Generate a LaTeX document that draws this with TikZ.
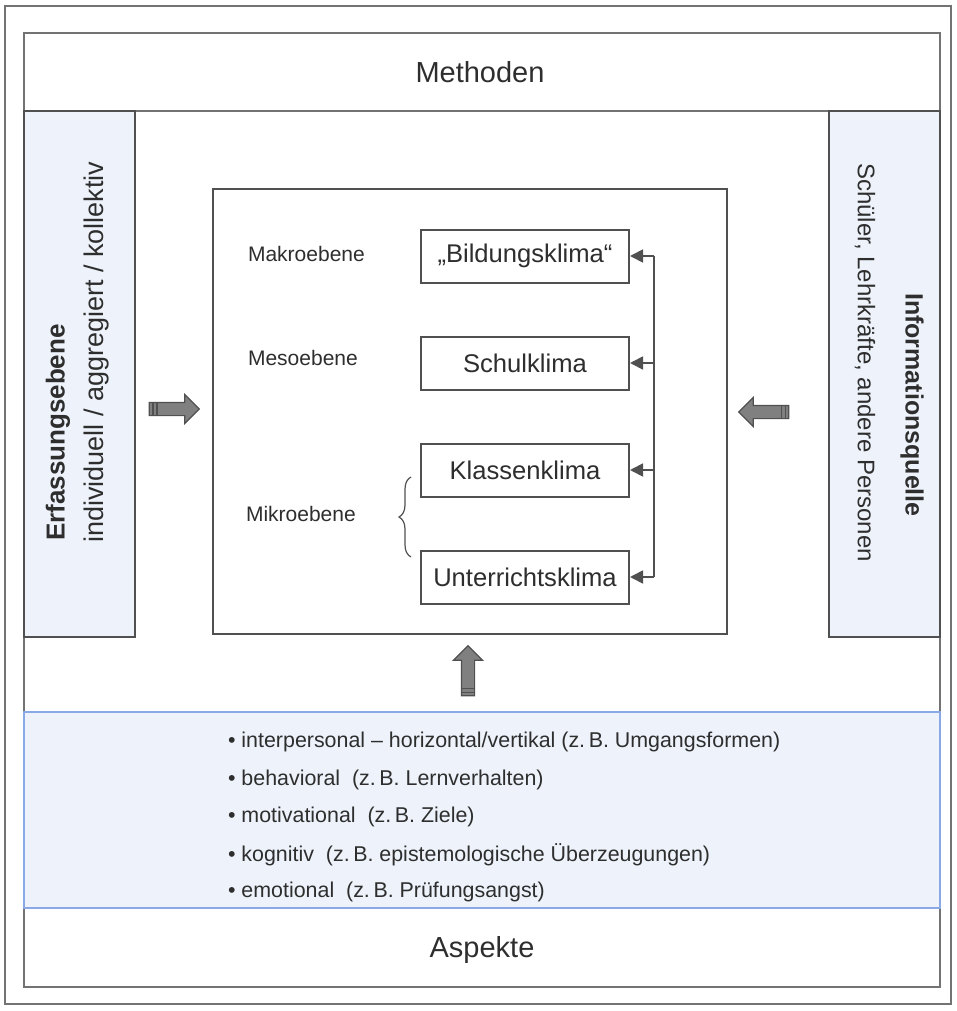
\documentclass[tikz,border=0pt]{standalone}
\usepackage{fontspec}
\setmainfont{Liberation Sans}
\usetikzlibrary{positioning,arrows.meta,shapes.arrows,decorations.pathreplacing}

\definecolor{ink}{HTML}{2E2E2E}
\definecolor{rim}{HTML}{505050}
\definecolor{paleblue}{HTML}{EEF3FB}
\definecolor{listblue}{HTML}{8AA8E6}

\begin{document}
\begin{tikzpicture}[
  x=0.5pt, y=-0.5pt,
  text=ink,
  frame/.style={draw=rim!80, line width=0.8pt},
  column/.style={draw=rim, line width=0.8pt, fill=paleblue},
  climate/.style={draw=rim, line width=1pt, fill=white, minimum width=104pt,
                  minimum height=26.5pt, inner sep=0pt,
                  font=\fontsize{12.8}{15}\selectfont},
  level/.style={anchor=west, font=\fontsize{10.5}{12}\selectfont},
  band/.style={font=\fontsize{14.5}{17}\selectfont},
  aspect/.style={anchor=west, font=\fontsize{10.7}{13}\selectfont},
  feed/.style={-{Triangle[length=6.5pt,width=6.5pt]}, draw=rim, line width=0.9pt},
  blockarrow/.style={single arrow, draw=rim, line width=0.6pt,
                     top color=black!50, middle color=black!22, bottom color=black!50,
                     minimum height=25pt, minimum width=0pt, inner xsep=0pt, inner ysep=3pt,
                     single arrow head extend=4pt, single arrow tip angle=90},
  stripe/.style={draw=rim, line width=0.8pt},
  node distance=26pt,
]
  \useasboundingbox (0,0) rectangle (957,1011);

  % frames
  \draw[frame] (5,6) rectangle (951,1004);
  \draw[frame] (24,33) rectangle (940,987);
  \draw[frame] (24,111) -- (940,111);
  \node[band] (meth) at (480,72) {Methoden};

  % side columns
  \draw[column] (24,111) rectangle (135,637);
  \draw[column] (829,111) rectangle (940,637);
  \node[rotate=90, anchor=west, font=\fontsize{13}{15}\selectfont\bfseries]
    (erf) at (58,548) {Erfassungsebene};
  \node[rotate=90, anchor=west, font=\fontsize{13.5}{16}\selectfont]
    (erfx) at (97,550) {individuell / aggregiert / kollektiv};
  \node[rotate=-90, anchor=west, font=\fontsize{12.5}{15}\selectfont\bfseries]
    (info) at (912,286) {Informationsquelle};
  \node[rotate=-90, anchor=west, font=\fontsize{12}{14}\selectfont]
    (infox) at (865,156) {Schüler, Lehrkräfte, andere Personen};

  % levels
  \draw[column, fill=white] (213,189) rectangle (727,634);
  \node[climate] (bild) at (525,256) {„Bildungsklima“};
  \node[climate, below=of bild] (schul) {Schulklima};
  \node[climate, below=of schul] (klassen) {Klassenklima};
  \node[climate, below=of klassen] (unter) {Unterrichtsklima};

  \node[level] (makro) at (241,254) {Makroebene};
  \node[level] (meso) at (241,358) {Mesoebene};
  \node[level] (mikro) at (239,514) {Mikroebene};
  \draw[rim, line width=0.6pt, decorate, decoration={brace, amplitude=6pt}]
    (411,557) -- (411,477);

  \coordinate (rail) at (654,0);
  \draw[rim, line width=0.9pt] (bild.east -| rail) -- (unter.east -| rail);
  \foreach \b in {bild,schul,klassen,unter}
    \draw[feed] (\b.east -| rail) -- (\b.east);

  % block arrows
  \node[blockarrow] (arrL) at (171,409) {};
  \node[blockarrow, rotate=180] (arrR) at (767,412) {};
  \node[blockarrow, rotate=90] (arrU) at (468,674) {};
  \foreach \d in {4,8} {
    \draw[stripe] ([xshift=\d*0.5pt]arrL.before tail) -- ([xshift=\d*0.5pt]arrL.after tail);
    \draw[stripe] ([xshift=-\d*0.5pt]arrR.before tail) -- ([xshift=-\d*0.5pt]arrR.after tail);
    \draw[stripe] ([yshift=\d*0.5pt]arrU.before tail) -- ([yshift=\d*0.5pt]arrU.after tail);
  }

  % aspects
  \draw[draw=listblue, line width=0.9pt, fill=paleblue] (24,712) rectangle (940,908);
  \foreach \t [count=\i] in {{interpersonal – horizontal/vertikal (z.\,B. Umgangsformen)},
                             {behavioral\ \ (z.\,B. Lernverhalten)},
                             {motivational\ \ (z.\,B. Ziele)},
                             {kognitiv\ \ (z.\,B. epistemologische Überzeugungen)},
                             {emotional\ \ (z.\,B. Prüfungsangst)}}
    \node[aspect] (asp\i) at (221,742+37.5*\i-37.5) {• \t};
  \node[band] (asp) at (482,950) {Aspekte};
\end{tikzpicture}
\end{document}
